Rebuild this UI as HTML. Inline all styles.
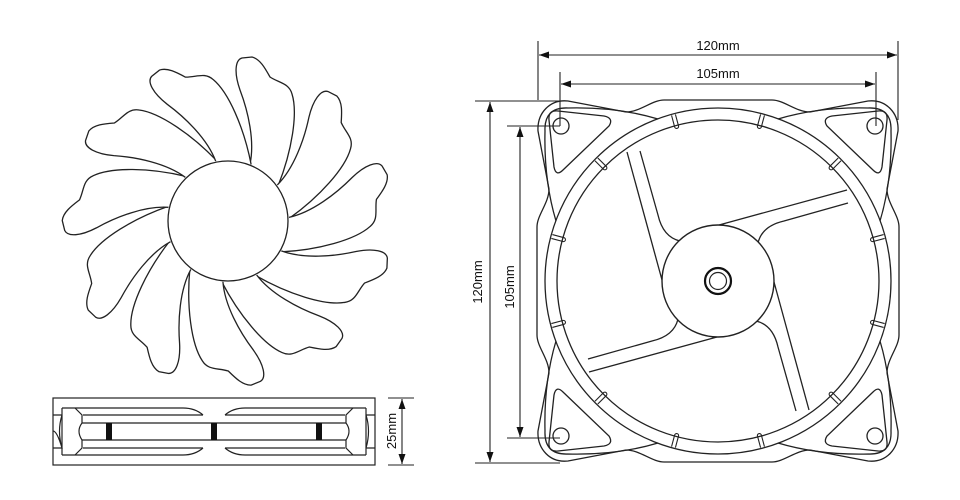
<!DOCTYPE html>
<html><head><meta charset="utf-8"><style>
html,body{margin:0;padding:0;background:#fff;}
svg{display:block;}
text{font-family:"Liberation Sans",Arial,sans-serif;font-size:13px;fill:#111;}
</style></head><body>
<svg width="960" height="500" viewBox="0 0 960 500" xmlns="http://www.w3.org/2000/svg">
<defs>
<path id="blade" d="M22,-57 C27,-80 20,-110 12,-131 C6,-148 7,-161 14,-163 L24,-164 C32,-162 37,-153 42,-144 C51,-138 61,-138 64,-127 C70,-108 64,-70 50,-35" fill="#fff" stroke="#222" stroke-width="1.3"/>
<g id="quarter" fill="none" stroke="#222" stroke-width="1.3">
<path d="M0,-181 L54,-181 C66,-181 78,-169 92,-169 L150,-180 C168,-182 181,-168 180,-150 L169,-92 C169,-78 181,-66 181,-54 L181,0"/>
<path d="M60,-162 C80,-168 110,-174 150,-173 Q174,-174 173,-150 C174,-110 168,-80 162,-60"/>
<path d="M114,-165 L160,-170 Q170,-171 169,-161 L164,-114 Q162,-104 155,-111 L109,-155 Q104,-163 114,-165 Z"/>
<circle cx="157" cy="-155" r="8"/>
</g>
<g id="strut" fill="none" stroke="#222" stroke-width="1.3">
<path d="M-91,-129 L-56,-1"/>
<path d="M-78,-130 L-60,-66 Q-55,-44 -38,-40"/>
</g>
<g id="notch" fill="none" stroke="#222" stroke-width="1.1">
<path d="M-2,-172 L-2,-160 A2,2 0 0 0 2,-160 L2,-172"/>
</g>
</defs>

<!-- left fan rotor -->
<g transform="translate(228,221)">
<use href="#blade" transform="rotate(0)"/>
<use href="#blade" transform="rotate(32.73)"/>
<use href="#blade" transform="rotate(65.45)"/>
<use href="#blade" transform="rotate(98.18)"/>
<use href="#blade" transform="rotate(130.91)"/>
<use href="#blade" transform="rotate(163.64)"/>
<use href="#blade" transform="rotate(196.36)"/>
<use href="#blade" transform="rotate(229.09)"/>
<use href="#blade" transform="rotate(261.82)"/>
<use href="#blade" transform="rotate(294.55)"/>
<use href="#blade" transform="rotate(327.27)"/>
<circle r="60" fill="#fff" stroke="#222" stroke-width="1.3"/>
</g>

<!-- side view -->
<g fill="none" stroke="#222" stroke-width="1.2">
<rect x="53" y="398" width="322" height="67"/>
<path d="M62,408 L183,408 Q195,408 203,415 M225,415 Q233,408 245,408 L366,408"/>
<path d="M62,455 L183,455 Q195,455 203,448 M225,448 Q233,455 245,455 L366,455"/>
<path d="M83,415 L203,415 M225,415 L345,415"/>
<path d="M83,448 L203,448 M225,448 L345,448"/>
<path d="M82,423 L346,423 M82,440 L346,440"/>
<path d="M62,408 L62,455 M366,408 L366,455"/>
<path d="M75,408 L82,415 L82,423 Q76,431 82,440 L82,448 L75,455"/>
<path d="M353,408 L346,415 L346,423 Q352,431 346,440 L346,448 L353,455"/>
<path d="M53,415 L62,415 M53,448 L62,448 Q57,431 53,431 M62,415 Q57,431 62,448"/>
<path d="M366,415 L375,415 M366,448 L375,448 M366,415 Q371,431 366,448"/>
</g>
<rect x="106" y="423" width="6" height="17" fill="#111"/>
<rect x="211" y="423" width="6" height="17" fill="#111"/>
<rect x="316" y="423" width="6" height="17" fill="#111"/>
<g stroke="#222" stroke-width="1.1" fill="none">
<path d="M388,398 L414,398 M388,465 L414,465 M402,399 L402,464"/>
</g>
<path d="M402,399 L398.5,409 L405.5,409 Z M402,464 L398.5,454 L405.5,454 Z" fill="#111"/>
<text transform="translate(396,431) rotate(-90)" text-anchor="middle">25mm</text>

<!-- front view -->
<g transform="translate(718,281)">
<use href="#quarter"/>
<use href="#quarter" transform="scale(-1,1)"/>
<use href="#quarter" transform="scale(1,-1)"/>
<use href="#quarter" transform="scale(-1,-1)"/>
<circle r="173" fill="none" stroke="#222" stroke-width="1.3"/>
<circle r="161" fill="none" stroke="#222" stroke-width="1.3"/>
<use href="#notch" transform="rotate(15)"/>
<use href="#notch" transform="rotate(45)"/>
<use href="#notch" transform="rotate(75)"/>
<use href="#notch" transform="rotate(105)"/>
<use href="#notch" transform="rotate(135)"/>
<use href="#notch" transform="rotate(165)"/>
<use href="#notch" transform="rotate(195)"/>
<use href="#notch" transform="rotate(225)"/>
<use href="#notch" transform="rotate(255)"/>
<use href="#notch" transform="rotate(285)"/>
<use href="#notch" transform="rotate(315)"/>
<use href="#notch" transform="rotate(345)"/>
<use href="#strut"/>
<use href="#strut" transform="rotate(90)"/>
<use href="#strut" transform="rotate(180)"/>
<use href="#strut" transform="rotate(270)"/>
<circle r="56" fill="#fff" stroke="#222" stroke-width="1.4"/>
<circle r="13" fill="none" stroke="#111" stroke-width="2.2"/>
<circle r="8.5" fill="none" stroke="#222" stroke-width="1.2"/>
</g>

<!-- dimensions -->
<g stroke="#222" stroke-width="1.1" fill="none">
<path d="M538,41 L538,100 M898,41 L898,120 M539,55 L897,55"/>
<path d="M560,72 L560,126 M876,72 L876,126 M561,84 L875,84"/>
<path d="M475,101 L563,101 M475,463 L560,463 M490,102 L490,462"/>
<path d="M507,126 L560,126 M507,438 L560,438 M520,127 L520,437"/>
</g>
<g fill="#111">
<path d="M539,55 L549,51.5 L549,58.5 Z M897,55 L887,51.5 L887,58.5 Z"/>
<path d="M561,84 L571,80.5 L571,87.5 Z M875,84 L865,80.5 L865,87.5 Z"/>
<path d="M490,102 L486.5,112 L493.5,112 Z M490,462 L486.5,452 L493.5,452 Z"/>
<path d="M520,127 L516.5,137 L523.5,137 Z M520,437 L516.5,427 L523.5,427 Z"/>
</g>
<text x="718" y="50" text-anchor="middle">120mm</text>
<text x="718" y="78" text-anchor="middle">105mm</text>
<text transform="translate(482,282) rotate(-90)" text-anchor="middle">120mm</text>
<text transform="translate(514,287) rotate(-90)" text-anchor="middle">105mm</text>
</svg>
</body></html>
